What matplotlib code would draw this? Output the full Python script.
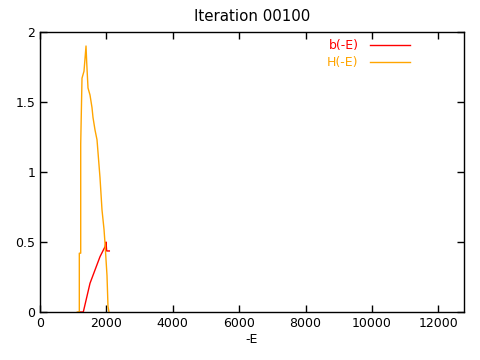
import numpy as np
import matplotlib
matplotlib.use("Agg")
import matplotlib.pyplot as plt

# H(-E) histogram values
h_e = [1124, 1184, 1184, 1226, 1226, 1265, 1325, 1386, 1407, 1446, 1506, 1566,
       1596, 1657, 1717, 1807, 1867, 1928, 1958, 2018, 2048, 2078]
h_v = [0.0, 0.0, 0.42, 0.42, 1.2, 1.67, 1.72, 1.9, 1.78, 1.6, 1.55, 1.46,
       1.39, 1.3, 1.23, 0.96, 0.73, 0.59, 0.49, 0.26, 0.04, 0.0]

# b(-E) values
b_e = [1184, 1304, 1506, 1807, 1958, 1988, 2008, 2088]
b_v = [0.0, 0.0, 0.205, 0.395, 0.466, 0.5, 0.436, 0.436]

plt.rcParams["font.family"] = "DejaVu Sans"
plt.rcParams["font.size"] = 9

fig = plt.figure(figsize=(4.8, 3.6), dpi=100)
ax = fig.add_axes([40 / 480, 48 / 360, 424 / 480, 280 / 360])

ax.plot(b_e, b_v, color="#ff0000", linewidth=1, label="b(-E)")
ax.plot(h_e, h_v, color="#ffa500", linewidth=1, label="H(-E)")

ax.set_xlim(0, 12770)
ax.set_ylim(0, 2)
ax.set_xticks(np.arange(0, 12001, 2000))
ax.set_yticks([0, 0.5, 1, 1.5, 2])
ax.set_yticklabels(["0", "0.5", "1", "1.5", "2"])
ax.tick_params(direction="in", top=True, right=True, length=5, width=1)
for s in ax.spines.values():
    s.set_linewidth(1)

ax.set_xlabel("-E", labelpad=2)
ax.set_title("Iteration 00100", pad=8)

ax.legend(loc="upper right", bbox_to_anchor=(0.89, 1.0), frameon=False,
          markerfirst=False, labelcolor="linecolor", handlelength=3.2,
          handletextpad=0.9, borderaxespad=0.2, labelspacing=0.3)

fig.savefig("out.png", dpi=100)
